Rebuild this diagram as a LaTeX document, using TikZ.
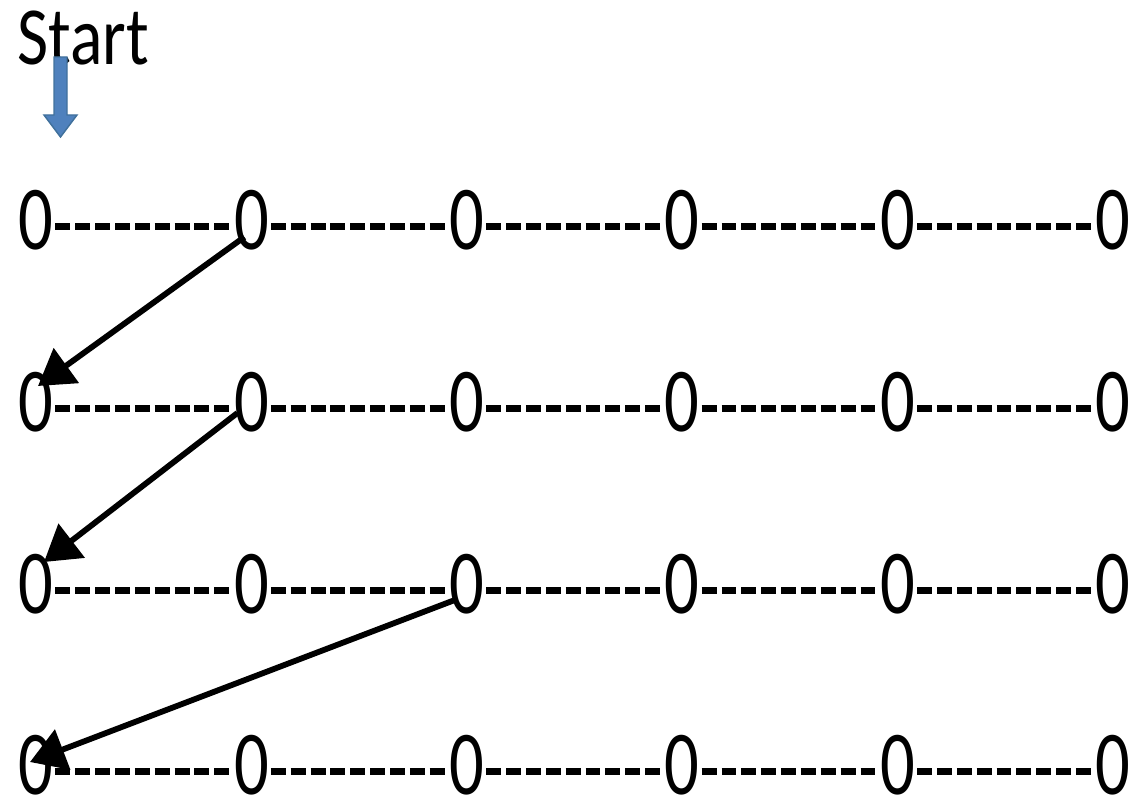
\documentclass[tikz,border=0pt]{standalone}
\usepackage{fontspec}
\setmainfont{Carlito}
\usetikzlibrary{arrows.meta}
\definecolor{dropblue}{HTML}{4F81BD}
\definecolor{dropedge}{HTML}{41719C}

\begin{document}
\begin{tikzpicture}[x=0.02cm, y=-0.02cm,
        zero/.style={inner xsep=1pt, inner ysep=0pt, font=\fontsize{52}{56}\selectfont},
        link/.style={line width=4pt, dash pattern=on 8.5pt off 2.8pt},
        jump/.style={line width=3.3pt, -{Triangle[length=7mm, width=8.4mm]}}]
    \useasboundingbox (0,0) rectangle (1148,800);

    \node[anchor=base west, inner sep=0, font=\fontsize{47}{50}\selectfont] (start) at (17,65) {\scalebox{0.82}[1]{Start}};

    \coordinate (drop) at (60.5,57);
    \draw[fill=dropblue, draw=dropedge, line width=0.8pt]
        ([shift={(-6.5,0)}]drop) -- ([shift={(6.5,0)}]drop) -- ([shift={(6.5,58)}]drop)
        -- ([shift={(16.5,58)}]drop) -- ([shift={(0,80)}]drop) -- ([shift={(-16.5,58)}]drop)
        -- ([shift={(-6.5,58)}]drop) -- cycle;

    \foreach \r/\y in {1/220, 2/402, 3/584, 4/765}{
        \foreach \c in {1,...,6}
            \node[zero] (r\r c\c) at ({36+215.4*(\c-1)}, \y) {\scalebox{0.75}[1]{0}};
        \foreach \c [count=\n from 2] in {1,...,5}
            \draw[link] ([shift={(0,6.5)}]r\r c\c.east) -- ([shift={(0,6.5)}]r\r c\n.west);
    }

    \draw[jump] ([shift={(-7,17)}]r1c2.center) -- ([shift={(2,-16)}]r2c1.center);
    \draw[jump] ([shift={(-14,11)}]r2c2.center) -- ([shift={(8,-22)}]r3c1.center);
    \draw[jump] ([shift={(-12,16)}]r3c3.center) -- ([shift={(-6,-3)}]r4c1.center);
\end{tikzpicture}
\end{document}
